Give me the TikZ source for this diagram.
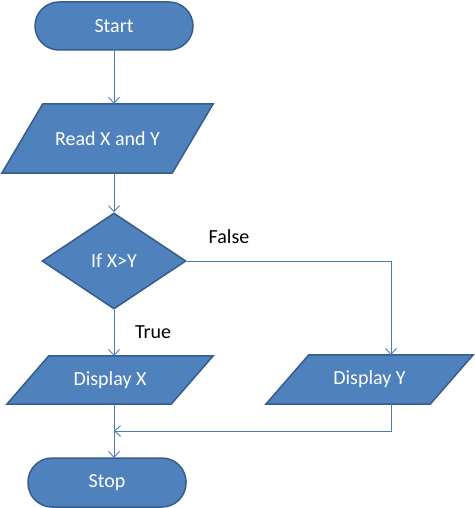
\documentclass[tikz,border=0pt]{standalone}
\usepackage{fontspec}
\setmainfont{Carlito}
\usetikzlibrary{shapes.geometric,arrows.meta,calc}
\definecolor{boxfill}{RGB}{79,129,189}
\definecolor{boxline}{RGB}{56,93,138}
\definecolor{conn}{RGB}{74,126,187}
\tikzset{
  shapestyle/.style={fill=boxfill,draw=boxline,line width=1.5pt},
  term/.style={shapestyle,rectangle,rounded corners=24pt,minimum width=158pt,minimum height=48pt,inner sep=0pt,text=white,font=\fontsize{20}{24}\selectfont},
  iobox/.style={rectangle,minimum width=#1,inner sep=0pt,text=white,font=\fontsize{20}{24}\selectfont},
  decision/.style={shapestyle,diamond,minimum width=144pt,minimum height=96pt,inner sep=0pt,text=white,font=\fontsize{20}{24}\selectfont},
  conn/.style={draw=conn,line width=0.9pt,-{Straight Barb[length=6pt,width=11pt,line width=0.9pt]}},
  connline/.style={draw=conn,line width=0.9pt},
  lbl/.style={text=black,font=\fontsize{20}{24}\selectfont,inner sep=0pt}
}
\begin{document}
\begin{tikzpicture}[x=1pt,y=-1pt]
\useasboundingbox (0,0) rectangle (474,508);
% Start
\node[term] (start) at (114,26) {Start};
% Read X and Y
\node[iobox=211pt,minimum height=69pt] (read) at (107.5,138.5) {};
\path[shapestyle] ($(read.north west)+(41,0)$) -- (read.north east) -- ($(read.south east)-(41,0)$) -- (read.south west) -- cycle;
\node[iobox=211pt,minimum height=69pt] at (read) {Read X and Y};
% Decision
\node[decision] (dec) at (114,261) {If X>Y};
% Display X
\node[iobox=206pt,minimum height=48pt] (dx) at (110,380) {};
\path[shapestyle] ($(dx.north west)+(42,0)$) -- (dx.north east) -- ($(dx.south east)-(42,0)$) -- (dx.south west) -- cycle;
\node[iobox=206pt,minimum height=48pt] at (dx) {Display X};
% Display Y
\node[iobox=207pt,minimum height=49pt] (dy) at (369.5,379.5) {};
\path[shapestyle] ($(dy.north west)+(43,0)$) -- (dy.north east) -- ($(dy.south east)-(43,0)$) -- (dy.south west) -- cycle;
\node[iobox=207pt,minimum height=49pt] at (dy) {Display Y};
% Stop
\node[term,minimum height=49pt] (stop) at (107,482.5) {Stop};
% coordinates
\coordinate (fcorner) at (391,261);
\coordinate (ytop) at (391,355);
\coordinate (ybot) at (391,404);
\coordinate (rcorner) at (391,431);
\coordinate (xbot) at (114,404);
\coordinate (xtop) at (114,356);
\coordinate (merge) at (114,431);
\coordinate (stoptop) at (114,458);
% connectors
\draw[conn] (start.south) -- (start.south |- read.north);
\draw[conn] (read.south -| dec.north) -- (dec.north);
\draw[conn] (dec.east) -- (fcorner) -- (ytop);
\draw[conn] (dec.south) -- (xtop);
\draw[conn] (ybot) -- (rcorner) -- (merge);
\draw[conn] (xbot) -- (stoptop);
% labels
\node[lbl] (false) at (229,237) {False};
\node[lbl] (true) at (153,332) {True};
\end{tikzpicture}
\end{document}
